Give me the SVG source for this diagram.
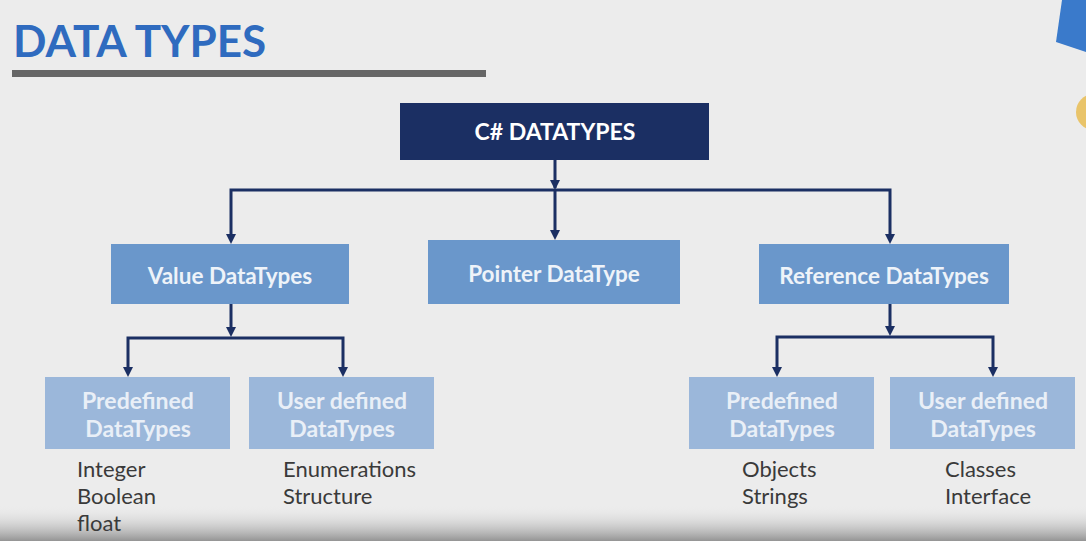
<svg xmlns="http://www.w3.org/2000/svg" width="1086" height="541" viewBox="0 0 1086 541">
<defs>
<linearGradient id="bottom" x1="0" y1="0" x2="0" y2="1">
<stop offset="0" stop-color="#ebebeb" stop-opacity="0"/>
<stop offset="1" stop-color="#8a8a8a" stop-opacity="0.9"/>
</linearGradient>
<style>
.lato{font-family:Lato,"Open Sans","Liberation Sans",sans-serif}
.mid{fill:#6a97cb}
.light{fill:#9bb7da}
.midt{fill:#eef3f9;font-size:22.5px;font-weight:bold;text-anchor:middle}
.lightt{fill:#e9eff7;font-size:23px;font-weight:bold;text-anchor:middle}
.item{fill:#3a3a3a;font-size:22px}
.conn{fill:none;stroke:#1b2f63;stroke-width:3}
</style>
</defs>
<rect width="1086" height="541" fill="#ececec"/>
<rect x="0" y="505" width="1086" height="36" fill="url(#bottom)"/>
<polygon points="1062,0 1086,0 1086,52 1056,42" fill="#3a7acb"/>
<circle cx="1094" cy="112" r="18" fill="#e9c46a"/>
<text x="13" y="57" class="lato" font-size="44" font-weight="bold" fill="#2f6bbf">DATA TYPES</text>
<rect x="12" y="70" width="474" height="7" fill="#666"/>

<g id="connectors">
<path class="conn" d="M555,159 V188"/>
<path class="conn" d="M231,236 V190 H890 V236"/>
<path class="conn" d="M555,190 V232"/>
<path class="conn" d="M231,304 V330"/>
<path class="conn" d="M128,368 V338 H343 V368"/>
<path class="conn" d="M890,304 V329"/>
<path class="conn" d="M777,368 V337 H993 V368"/>
<g fill="#1b2f63">
<polygon points="550,180 560,180 555,190"/>
<polygon points="226,234 236,234 231,244"/>
<polygon points="550,230 560,230 555,240"/>
<polygon points="885,234 895,234 890,244"/>
<polygon points="226,327 236,327 231,337"/>
<polygon points="123,367 133,367 128,377"/>
<polygon points="338,367 348,367 343,377"/>
<polygon points="885,326 895,326 890,336"/>
<polygon points="772,367 782,367 777,377"/>
<polygon points="988,367 998,367 993,377"/>
</g>
</g>

<g id="root">
<rect x="400" y="103" width="309" height="57" fill="#1b2f63"/>
<text x="555" y="140" class="lato" font-size="23" font-weight="bold" fill="#ffffff" text-anchor="middle">C# DATATYPES</text>
</g>
<g id="value">
<rect x="111" y="244" width="238" height="60" class="mid"/>
<text x="230" y="284" class="lato midt">Value DataTypes</text>
</g>
<g id="pointer">
<rect x="428" y="240" width="252" height="64" class="mid"/>
<text x="554" y="282" class="lato midt">Pointer DataType</text>
</g>
<g id="reference">
<rect x="759" y="244" width="250" height="60" class="mid"/>
<text x="884" y="284" class="lato midt">Reference DataTypes</text>
</g>
<g id="value-predefined">
<rect x="45" y="377" width="185" height="72" class="light"/>
<text class="lato lightt"><tspan x="138" y="409">Predefined</tspan><tspan x="138" y="437">DataTypes</tspan></text>
<text class="lato item"><tspan x="77" y="477">Integer</tspan><tspan x="77" y="504">Boolean</tspan><tspan x="77" y="531">float</tspan></text>
</g>
<g id="value-user">
<rect x="249" y="377" width="185" height="72" class="light"/>
<text class="lato lightt"><tspan x="342" y="409">User defined</tspan><tspan x="342" y="437">DataTypes</tspan></text>
<text class="lato item"><tspan x="283" y="477">Enumerations</tspan><tspan x="283" y="504">Structure</tspan></text>
</g>
<g id="ref-predefined">
<rect x="689" y="377" width="185" height="72" class="light"/>
<text class="lato lightt"><tspan x="782" y="409">Predefined</tspan><tspan x="782" y="437">DataTypes</tspan></text>
<text class="lato item"><tspan x="742" y="477">Objects</tspan><tspan x="742" y="504">Strings</tspan></text>
</g>
<g id="ref-user">
<rect x="890" y="377" width="185" height="72" class="light"/>
<text class="lato lightt"><tspan x="983" y="409">User defined</tspan><tspan x="983" y="437">DataTypes</tspan></text>
<text class="lato item"><tspan x="945" y="477">Classes</tspan><tspan x="945" y="504">Interface</tspan></text>
</g>
</svg>
